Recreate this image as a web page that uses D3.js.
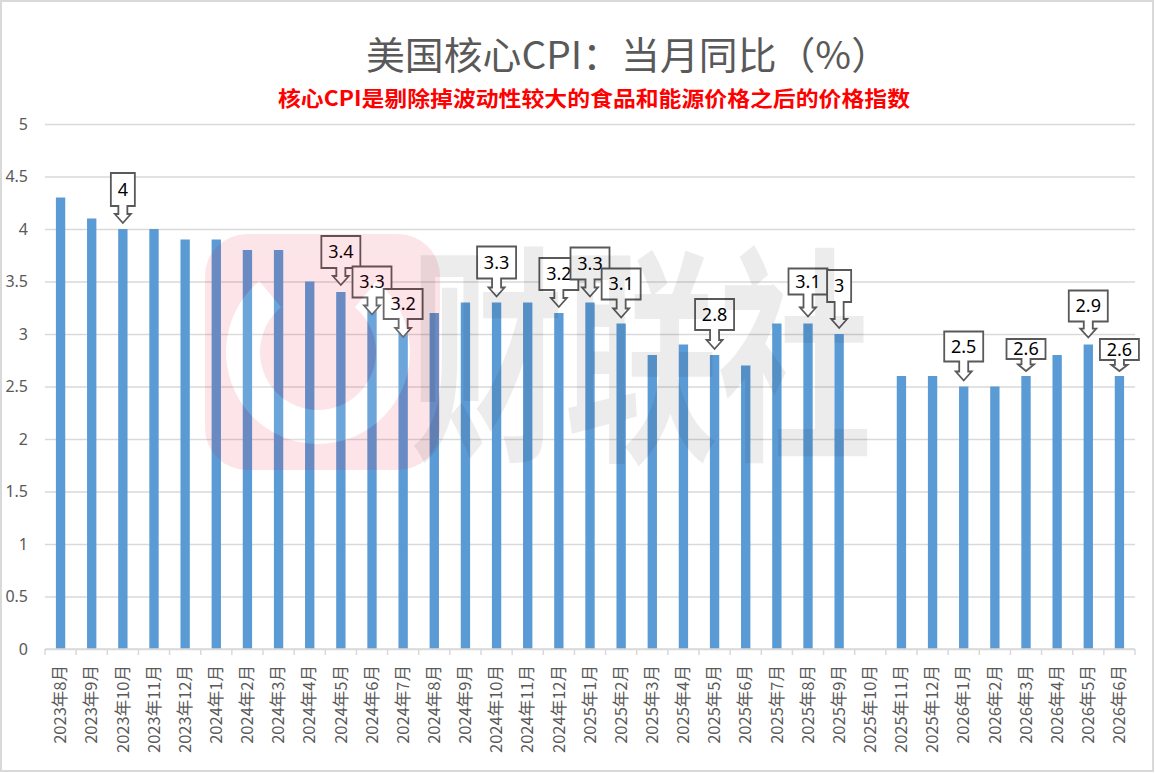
<!DOCTYPE html>
<html>
<head>
<meta charset="utf-8">
<script src="https://cdn.jsdelivr.net/npm/d3@7/dist/d3.min.js"></script>
<style>
  html, body { margin: 0; padding: 0; background: #fff; }
  svg { display: block; font-family: "Noto Sans CJK SC", "Noto Sans", sans-serif; }
</style>
</head>
<body>
<div id="chart"></div>
<script>
// months on the x axis
const months = [
  '2023年8月', '2023年9月', '2023年10月', '2023年11月', '2023年12月',
  '2024年1月', '2024年2月', '2024年3月', '2024年4月', '2024年5月', '2024年6月',
  '2024年7月', '2024年8月', '2024年9月', '2024年10月', '2024年11月', '2024年12月',
  '2025年1月', '2025年2月', '2025年3月', '2025年4月', '2025年5月', '2025年6月',
  '2025年7月', '2025年8月', '2025年9月', '2025年10月', '2025年11月', '2025年12月',
  '2026年1月', '2026年2月', '2026年3月', '2026年4月', '2026年5月', '2026年6月'
];

// core CPI, year on year (%), 2025年10月 has no value
const coreCPI = [
  4.3, 4.1, 4.0, 4.0, 3.9,
  3.9, 3.8, 3.8, 3.5, 3.4, 3.3, 3.2, 3.2, 3.3, 3.3, 3.3, 3.2,
  3.3, 3.1, 2.8, 2.9, 2.8, 2.7, 3.1, 3.1, 3.0, null, 2.6, 2.6,
  2.5, 2.5, 2.6, 2.8, 2.9, 2.6
];

const yTicks = [0, 0.5, 1, 1.5, 2, 2.5, 3, 3.5, 4, 4.5, 5];

// months that carry an arrow callout
const calloutMonths = [
  '2023年10月', '2024年5月', '2024年6月', '2024年7月', '2024年10月',
  '2024年12月', '2025年1月', '2025年2月', '2025年5月', '2025年8月',
  '2025年9月', '2026年1月', '2026年3月', '2026年5月', '2026年6月'
];

const title = '美国核心CPI：当月同比（%）';
const subtitle = '核心CPI是剔除掉波动性较大的食品和能源价格之后的价格指数';

// callout shapes: [tip offset from bar top px, box height, arrow length]
const calloutShape = [
  [-6, 33, 17], [-7, 32, 17], [12, 31, 17], [24, 30, 18], [-6, 32, 18],
  [-6, 32, 17], [-6, 32, 17], [-6, 31, 18], [-6, 31, 19], [-7, 26, 22],
  [-6, 32, 26], [-6, 30, 19], [-5, 20, 12], [-7, 31, 16], [-5, 21, 11]
];

const width = 1155, height = 773;
const margin = {top: 124, right: 20, bottom: 124, left: 45};

const svg = d3.select('#chart').append('svg')
  .attr('width', width)
  .attr('height', height);

// outer frame
svg.append('rect')
  .attr('x', 1).attr('y', 1)
  .attr('width', width - 3).attr('height', height - 3)
  .attr('fill', '#fff')
  .attr('stroke', '#d9d9d9')
  .attr('stroke-width', 2);

const x = d3.scaleBand()
  .domain(months)
  .range([margin.left, width - margin.right])
  .paddingInner(0.7)
  .paddingOuter(0.35);

const y = d3.scaleLinear()
  .domain([0, 5])
  .range([height - margin.bottom, margin.top]);

// titles
svg.append('text')
  .attr('x', 366).attr('y', 69)
  .attr('font-size', 38)
  .attr('textLength', 524)
  .attr('lengthAdjust', 'spacingAndGlyphs')
  .attr('fill', '#595959')
  .text(title);

svg.append('text')
  .attr('x', 278).attr('y', 106)
  .attr('font-size', 21)
  .attr('font-weight', 'bold')
  .attr('textLength', 632)
  .attr('lengthAdjust', 'spacingAndGlyphs')
  .attr('fill', '#ff0000')
  .text(subtitle);

// grid + y labels
const yAxis = d3.axisLeft(y)
  .tickValues(yTicks)
  .tickSize(-(width - margin.left - margin.right))
  .tickPadding(17)
  .tickFormat(d => d);

svg.append('g')
  .attr('transform', 'translate(' + margin.left + ',0)')
  .call(yAxis)
  .call(g => g.select('.domain').remove())
  .call(g => g.selectAll('.tick line').attr('stroke', '#d9d9d9').attr('stroke-width', 1.5))
  .call(g => g.selectAll('.tick text')
    .attr('fill', '#595959')
    .attr('font-size', 16)
    .attr('font-family', '"Noto Sans", sans-serif'));

// bars
svg.append('g')
  .selectAll('rect')
  .data(months.map((m, i) => ({month: m, value: coreCPI[i]})).filter(d => d.value !== null))
  .enter()
  .append('rect')
  .attr('x', d => x(d.month))
  .attr('y', d => y(d.value))
  .attr('width', x.bandwidth())
  .attr('height', d => y(0) - y(d.value))
  .attr('fill', '#5b9bd5');

// x axis: baseline, boundary ticks, rotated labels
const x0 = y(0);
const step = x.step();
const xg = svg.append('g');
xg.append('line')
  .attr('x1', margin.left).attr('x2', width - margin.right)
  .attr('y1', x0).attr('y2', x0)
  .attr('stroke', '#d9d9d9').attr('stroke-width', 1.5);

xg.selectAll('line.tk')
  .data(d3.range(months.length + 1))
  .enter()
  .append('line')
  .attr('class', 'tk')
  .attr('x1', i => margin.left + i * step)
  .attr('x2', i => margin.left + i * step)
  .attr('y1', x0).attr('y2', x0 + 6)
  .attr('stroke', '#d9d9d9').attr('stroke-width', 1.5);

xg.selectAll('text')
  .data(months)
  .enter()
  .append('text')
  .attr('transform', d => 'translate(' + (x(d) + x.bandwidth() / 2) + ',' + (x0 + 16) + ') rotate(-90)')
  .attr('text-anchor', 'end')
  .attr('dy', '0.35em')
  .attr('font-size', 16.5)
  .attr('fill', '#595959')
  .text(d => d);

// arrow callouts
const cg = svg.append('g');
calloutMonths.forEach(function(m, i) {
  const v = coreCPI[months.indexOf(m)];
  const shape = calloutShape[i];
  const cx = x(m) + x.bandwidth() / 2;
  const tip = y(v) + shape[0];
  const boxH = shape[1];
  const arrow = shape[2];
  const label = String(v);

  const g = cg.append('g');
  const txt = g.append('text')
    .attr('font-size', 18)
    .attr('font-family', '"Noto Sans", sans-serif')
    .attr('fill', '#000')
    .attr('text-anchor', 'middle')
    .text(label);
  const tw = txt.node().getComputedTextLength();
  const boxW = Math.round(tw + 14);
  const bottom = tip - arrow;
  const top = bottom - boxH;
  const headH = Math.min(9, arrow * 0.55);
  const headW = Math.min(8, (boxW - 8) / 2);
  const stemW = 4.5;
  const l = cx - boxW / 2, r = cx + boxW / 2;

  const p = [
    [l, top], [r, top], [r, bottom],
    [cx + stemW, bottom], [cx + stemW, tip - headH], [cx + headW, tip - headH],
    [cx, tip],
    [cx - headW, tip - headH], [cx - stemW, tip - headH], [cx - stemW, bottom],
    [l, bottom]
  ];
  g.insert('path', 'text')
    .attr('d', d3.line()(p) + 'Z')
    .attr('fill', '#fff')
    .attr('stroke', '#595959')
    .attr('stroke-width', 1.8)
    .attr('stroke-linejoin', 'miter');
  txt.attr('x', cx).attr('y', top + boxH / 2).attr('dy', '0.36em');
});

// watermark over everything
const wm = svg.append('g').attr('pointer-events', 'none');
const logo = wm.append('g').attr('opacity', 0.1);
logo.append('rect')
  .attr('x', 205).attr('y', 234)
  .attr('width', 235).attr('height', 236)
  .attr('rx', 42)
  .attr('fill', '#e60028');
logo.append('path')
  .attr('d', d3.arc()
    .innerRadius(58).outerRadius(92)
    .startAngle(Math.PI * 0.22).endAngle(Math.PI * 1.78)())
  .attr('transform', 'translate(318,352)')
  .attr('fill', '#fff');
wm.append('text')
  .attr('x', 410).attr('y', 442)
  .attr('font-size', 230)
  .attr('font-weight', 'bold')
  .attr('textLength', 462)
  .attr('lengthAdjust', 'spacingAndGlyphs')
  .attr('fill', '#000')
  .attr('opacity', 0.07)
  .text('财联社');
</script>
</body>
</html>
